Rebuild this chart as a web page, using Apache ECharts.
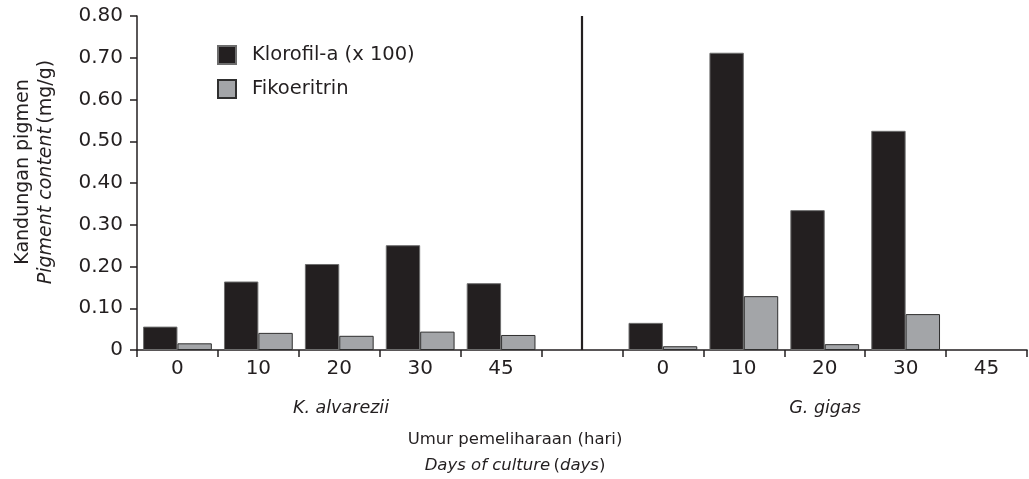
<!DOCTYPE html>
<html>
<head>
<meta charset="utf-8">
<script src="https://cdn.jsdelivr.net/npm/echarts@6/dist/echarts.min.js"></script>
<style>
html,body{margin:0;padding:0;background:#fff;}
#chart{width:1029px;height:479px;}
</style>
</head>
<body>
<div id="chart"></div>
<script>
const categories = ['0', '10', '20', '30', '45', '', '0', '10', '20', '30', '45'];
const klorofil = [0.056, 0.164, 0.206, 0.251, 0.160, null, 0.065, 0.712, 0.335, 0.525, null];
const fikoeritrin = [0.016, 0.041, 0.034, 0.044, 0.036, null, 0.009, 0.129, 0.014, 0.086, null];
const yTicks = [0, 0.1, 0.2, 0.3, 0.4, 0.5, 0.6, 0.7, 0.8];
const seriesNames = ['Klorofil-a (x 100)', 'Fikoeritrin'];
const speciesNames = ['K. alvarezii', 'G. gigas'];
const dividerCategoryIndex = 5;

const FONT = 'DejaVu Sans';
const INK = '#231f20';
const chart = echarts.init(document.getElementById('chart'), null, {renderer: 'canvas'});

const option = {
  animation: false,
  backgroundColor: '#fff',
  textStyle: {fontFamily: FONT, color: INK},
  grid: {left: 137, right: 2, top: 16, bottom: 129, containLabel: false},
  legend: {
    orient: 'vertical',
    left: 212,
    top: 40,
    itemWidth: 18,
    itemHeight: 18,
    itemGap: 14,
    icon: 'rect',
    textStyle: {fontFamily: FONT, fontSize: 19.5, color: INK, padding: [0, 0, 0, 11]},
    data: seriesNames
  },
  xAxis: {
    type: 'category',
    data: categories,
    axisLine: {lineStyle: {color: INK, width: 1.5}},
    axisTick: {show: true, length: 7, lineStyle: {color: INK, width: 1.5}},
    axisLabel: {fontFamily: FONT, fontSize: 20, color: INK, margin: 9},
    splitLine: {show: false}
  },
  yAxis: {
    type: 'value',
    min: yTicks[0],
    max: yTicks[yTicks.length - 1],
    interval: 0.1,
    axisLine: {show: true, lineStyle: {color: INK, width: 1.5}},
    axisTick: {show: true, length: 7, lineStyle: {color: INK, width: 1.5}},
    axisLabel: {
      fontFamily: FONT, fontSize: 20, color: INK, margin: 14,
      formatter: v => (v === 0 ? '0' : v.toFixed(2))
    },
    splitLine: {show: false}
  },
  series: [
    {
      name: seriesNames[0],
      type: 'bar',
      data: klorofil,
      barGap: '0%',
      barCategoryGap: '15%',
      itemStyle: {color: INK, borderColor: '#6d6d6d', borderWidth: 1}
    },
    {
      name: seriesNames[1],
      type: 'bar',
      data: fikoeritrin,
      itemStyle: {color: '#a3a5a8', borderColor: '#2f2f2f', borderWidth: 1}
    },
    {
      name: 'divider',
      type: 'line',
      data: [],
      silent: true,
      markLine: {
        silent: true,
        symbol: ['none', 'none'],
        label: {show: false},
        lineStyle: {color: INK, width: 2.2, type: 'solid'},
        data: [{xAxis: dividerCategoryIndex}]
      }
    }
  ],
  graphic: [
    {
      type: 'text', x: 35, y: 172, rotation: Math.PI / 2,
      style: {
        text: '{n|Kandungan pigmen}\n{i|Pigment content} {n|(mg/g)}',
        align: 'center', verticalAlign: 'middle',
        rich: {
          n: {fontFamily: FONT, fontSize: 19, fill: INK, lineHeight: 23},
          i: {fontFamily: FONT, fontSize: 19, fontStyle: 'italic', fill: INK, lineHeight: 23}
        }
      }
    },
    {
      type: 'text', x: 341, y: 408,
      style: {text: speciesNames[0], fontFamily: FONT, fontSize: 17.5, fontStyle: 'italic', fill: INK, align: 'center', verticalAlign: 'middle'}
    },
    {
      type: 'text', x: 825, y: 408,
      style: {text: speciesNames[1], fontFamily: FONT, fontSize: 17.5, fontStyle: 'italic', fill: INK, align: 'center', verticalAlign: 'middle'}
    },
    {
      type: 'text', x: 515, y: 440,
      style: {text: 'Umur pemeliharaan (hari)', fontFamily: FONT, fontSize: 16.5, fill: INK, align: 'center', verticalAlign: 'middle'}
    },
    {
      type: 'text', x: 515, y: 466,
      style: {
        text: '{i|Days of culture} {n|(}{i|days}{n|)}',
        align: 'center', verticalAlign: 'middle',
        rich: {
          n: {fontFamily: FONT, fontSize: 16.5, fill: INK},
          i: {fontFamily: FONT, fontSize: 16.5, fontStyle: 'italic', fill: INK}
        }
      }
    }
  ]
};
chart.setOption(option);
</script>
</body>
</html>
